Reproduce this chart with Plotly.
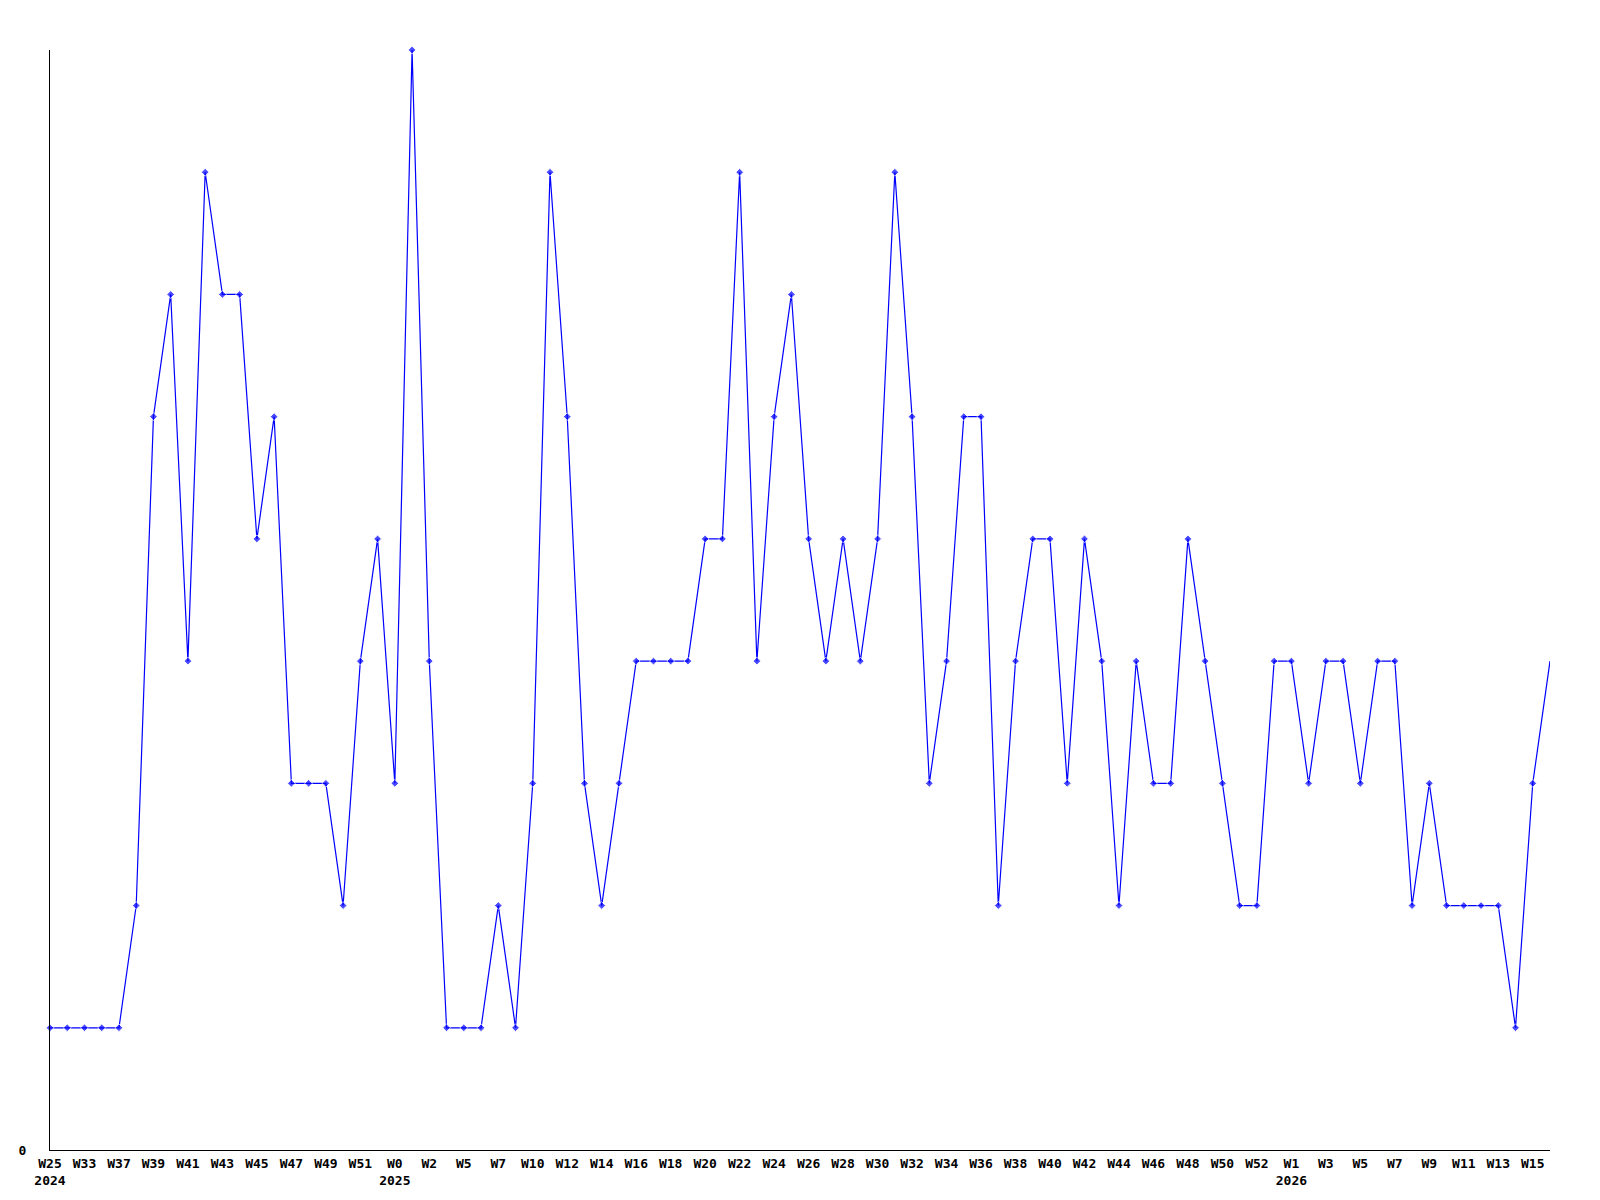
import plotly.graph_objects as go

# weekly counts, one per point (88 points)
counts = [
    1, 1, 1, 1, 1, 2, 6, 7, 4, 8,
    7, 7, 5, 6, 3, 3, 3, 2, 4, 5,
    3, 9, 4, 1, 1, 1, 2, 1, 3, 8,
    6, 3, 2, 3, 4, 4, 4, 4, 5, 5,
    8, 4, 6, 7, 5, 4, 5, 4, 5, 8,
    6, 3, 4, 6, 6, 2, 4, 5, 5, 3,
    5, 4, 2, 4, 3, 3, 5, 4, 3, 2,
    2, 4, 4, 3, 4, 4, 3, 4, 4, 2,
    3, 2, 2, 2, 2, 1, 3, 4,
]

# labels shown on every second point
week_labels = [
    "W25", "W33", "W37", "W39", "W41", "W43", "W45", "W47", "W49", "W51",
    "W0", "W2", "W5", "W7", "W10", "W12", "W14", "W16", "W18", "W20",
    "W22", "W24", "W26", "W28", "W30", "W32", "W34", "W36", "W38", "W40",
    "W42", "W44", "W46", "W48", "W50", "W52", "W1", "W3", "W5", "W7",
    "W9", "W11", "W13", "W15",
]
year_marks = {"W25": "2024", "W0": "2025", "W1": "2026"}

x = list(range(len(counts)))
tick_vals = x[::2]
tick_text = []
for lab in week_labels:
    yr = year_marks.get(lab)
    tick_text.append(f"{lab}<br>{yr}" if yr else lab)

# last point is drawn without a marker
marker_sizes = [6] * (len(counts) - 1) + [0]

FONT = dict(family="DejaVu Sans Mono", size=13, color="black", weight="bold")

fig = go.Figure()
fig.add_trace(go.Scatter(
    x=x,
    y=counts,
    mode="lines+markers",
    line=dict(color="#0000ff", width=1.2),
    marker=dict(symbol="diamond", size=marker_sizes, color="#0000ff"),
    cliponaxis=False,
    hoverinfo="x+y",
))

# page body has an 8px margin, so margins are trimmed to match
fig.update_layout(
    width=1600, height=1200, autosize=False,
    margin=dict(l=42, r=58, t=42, b=58),
    plot_bgcolor="white", paper_bgcolor="white",
    showlegend=False,
    font=FONT,
    xaxis=dict(
        range=[0, len(counts) - 1],
        tickmode="array", tickvals=tick_vals, ticktext=tick_text,
        showgrid=False, zeroline=False,
        showline=True, linecolor="black", linewidth=1,
        ticks="", tickfont=FONT, ticklabelstandoff=1,
    ),
    yaxis=dict(
        range=[0, 9],
        tickmode="array", tickvals=[0], ticktext=["0"],
        showgrid=False, zeroline=False,
        showline=True, linecolor="black", linewidth=1,
        ticks="", tickfont=FONT, ticklabelstandoff=20,
    ),
)

fig.write_html("out.html")
